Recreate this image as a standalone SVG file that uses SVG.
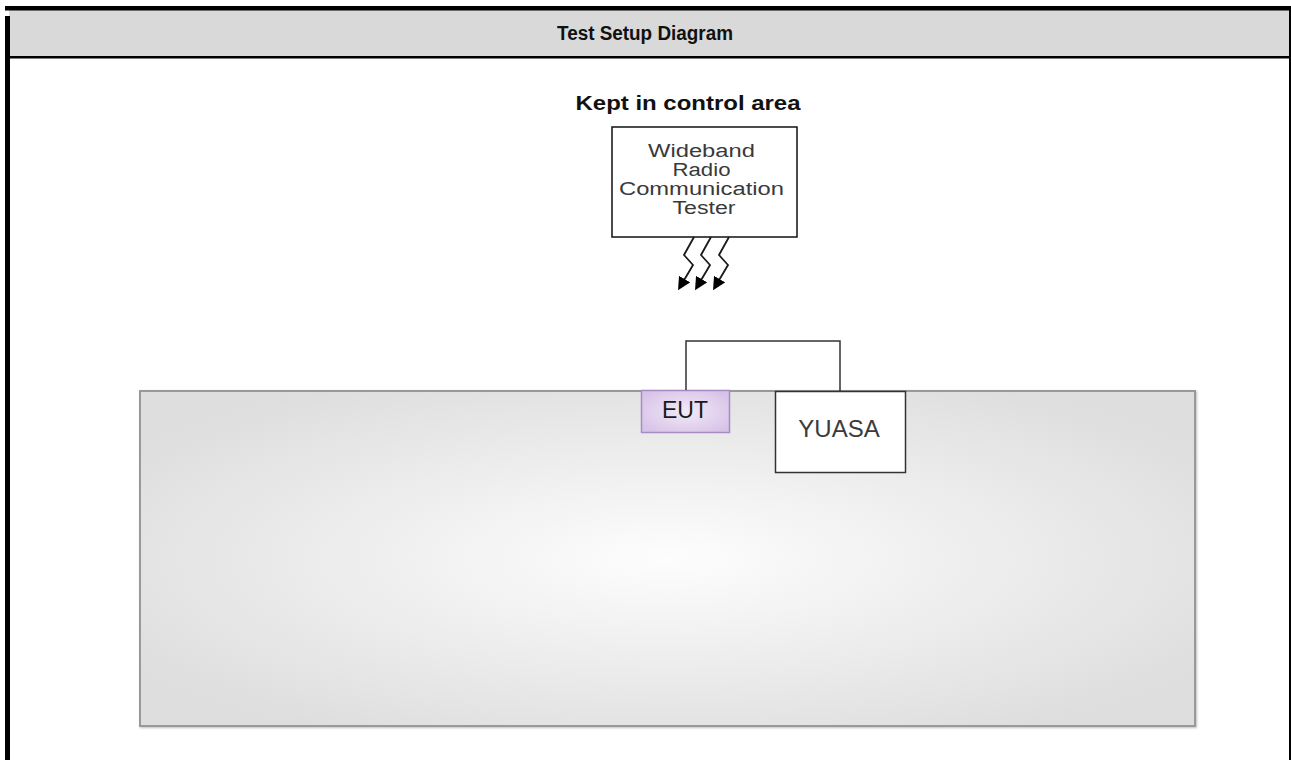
<svg xmlns="http://www.w3.org/2000/svg" width="1291" height="760" viewBox="0 0 1291 760">
<style>
.t{font-family:"Liberation Sans",Arial,sans-serif}
.b{font-weight:bold;fill:#111}
.n{fill:#3a3a3a}
.wire{fill:none;stroke:#333;stroke-width:1.5}
.bolt{fill:none;stroke:#1a1a1a;stroke-width:1.8;marker-end:url(#ah)}
</style>
<defs>
<radialGradient id="bg" cx="0.5" cy="0.5" r="0.6">
<stop offset="0" stop-color="#fdfdfd"/>
<stop offset="1" stop-color="#dedede"/>
</radialGradient>
<radialGradient id="eut" cx="0.5" cy="0.5" r="0.6">
<stop offset="0" stop-color="#f2eaf7"/>
<stop offset="1" stop-color="#d8c3e8"/>
</radialGradient>
<filter id="sh" x="-5%" y="-5%" width="110%" height="110%">
<feDropShadow dx="1" dy="1" stdDeviation="1" flood-color="#000" flood-opacity="0.25"/>
</filter>
<marker id="ah" viewBox="0 0 10 10" refX="7" refY="5" markerWidth="13" markerHeight="13" markerUnits="userSpaceOnUse" orient="auto">
<path d="M0,0 L10,5 L0,10 z" fill="#000"/>
</marker>
</defs>
<rect x="0" y="0" width="1291" height="760" fill="#fff"/>
<g id="frame">
<rect x="9" y="10" width="1280" height="46" fill="#d9d9d9"/>
<rect x="5" y="6" width="1286" height="4.5" fill="#000"/>
<rect x="5" y="16" width="5" height="744" fill="#000"/>
<rect x="9" y="56" width="1282" height="2.5" fill="#000"/>
<rect x="1289" y="10" width="2" height="750" fill="#000"/>
<text class="t b" x="645" y="40" font-size="20" text-anchor="middle" textLength="176" lengthAdjust="spacingAndGlyphs">Test Setup Diagram</text>
</g>
<g id="table">
<rect x="140" y="391" width="1055" height="335" fill="url(#bg)" stroke="#999" stroke-width="2" filter="url(#sh)"/>
</g>
<g id="label">
<text class="t b" x="688" y="110" font-size="20" text-anchor="middle" textLength="225" lengthAdjust="spacingAndGlyphs">Kept in control area</text>
</g>
<g id="tester">
<rect x="612" y="127" width="185" height="110" fill="#fff" stroke="#111" stroke-width="1.5"/>
<text class="t n" font-size="18" text-anchor="middle">
<tspan x="704" y="157" textLength="107" lengthAdjust="spacingAndGlyphs">Wideband</tspan>
<tspan x="704" y="176" textLength="58" lengthAdjust="spacingAndGlyphs">Radio</tspan>
<tspan x="704" y="195" textLength="165" lengthAdjust="spacingAndGlyphs">Communication</tspan>
<tspan x="704" y="214" textLength="63" lengthAdjust="spacingAndGlyphs">Tester</tspan>
</text>
</g>
<g id="eut-node">
<rect x="641.5" y="390.5" width="88" height="42" fill="url(#eut)" stroke="#a68cc2" stroke-width="1.5"/>
<text class="t" x="685" y="418" font-size="23" text-anchor="middle" fill="#1a1a1a">EUT</text>
</g>
<g id="yuasa">
<rect x="775.5" y="391.5" width="130" height="81" fill="#fff" stroke="#333" stroke-width="1.5"/>
<text class="t n" x="839" y="437" font-size="24" text-anchor="middle">YUASA</text>
</g>
<g id="connectors">
<path class="wire" d="M686,390 V341 H840 V391"/>
<path class="bolt" d="M694,237 L684,255 L693,265 L680,287"/>
<path class="bolt" d="M711,237 L701,255 L710,265 L697,287"/>
<path class="bolt" d="M729,237 L719,255 L728,265 L715,287"/>
</g>
</svg>
